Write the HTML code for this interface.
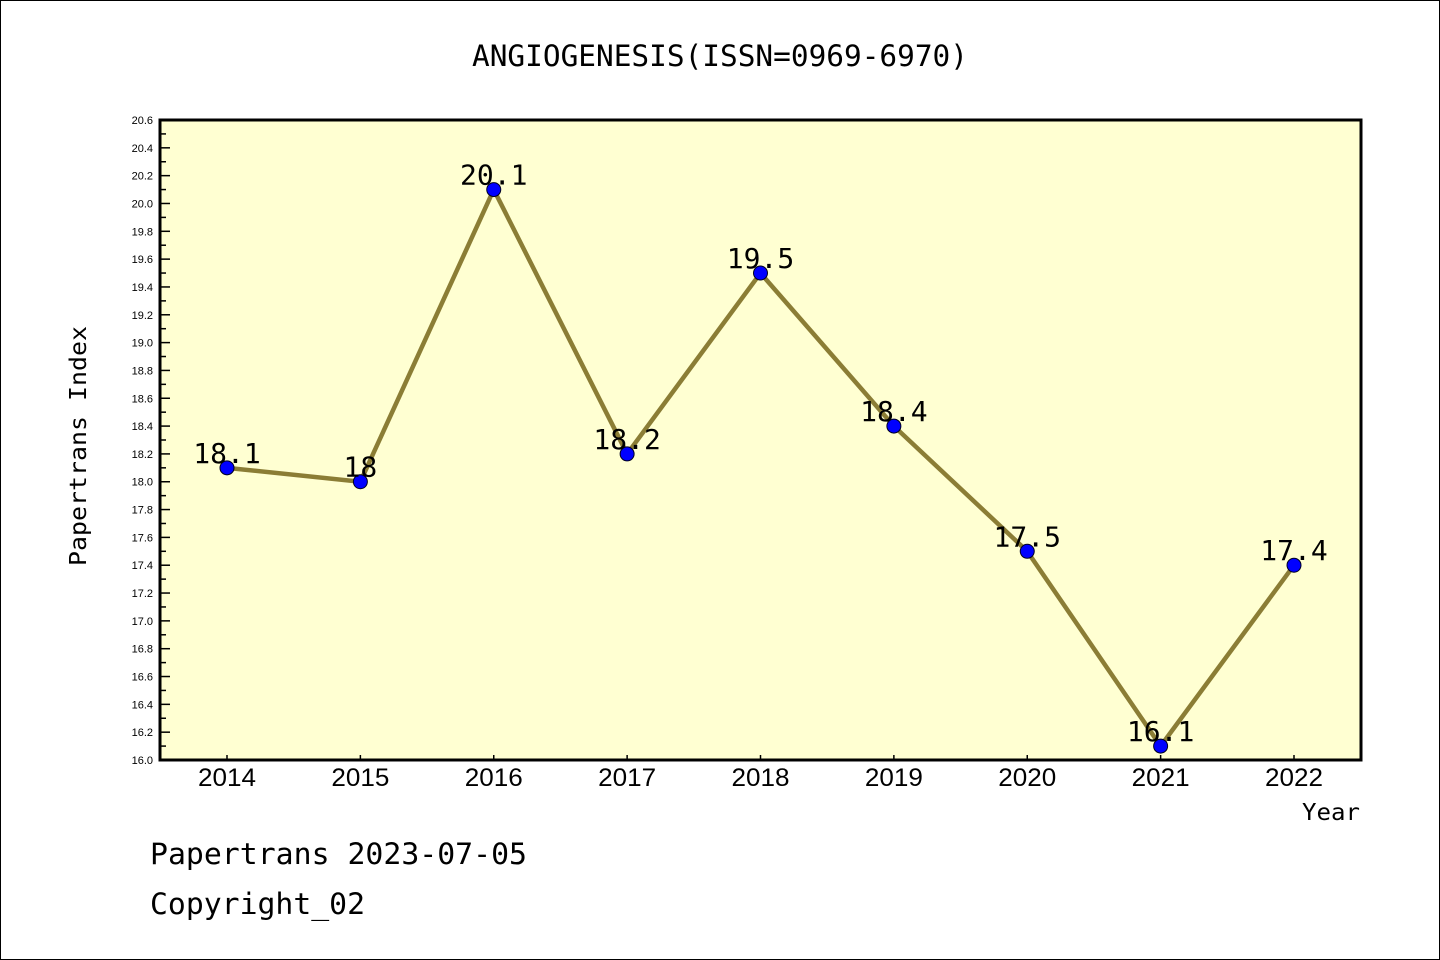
<!DOCTYPE html>
<html><head><meta charset="utf-8"><style>
body{margin:0;background:#fff;}
svg{display:block;font-family:"Liberation Sans","WenQuanYi Zen Hei",sans-serif;}
</style></head><body>
<svg id="chart" width="1440" height="960" xmlns="http://www.w3.org/2000/svg">
<rect x="0.5" y="0.5" width="1439" height="959" fill="#fff" stroke="#000"/>
<text x="472" y="66" textLength="496" lengthAdjust="spacingAndGlyphs" font-size="29" font-family="'WenQuanYi Zen Hei',monospace">ANGIOGENESIS(ISSN=0969-6970)</text>
<rect x="160" y="120" width="1201" height="640" fill="#ffffd2"/>
<g id="yaxis"></g>
<g id="xaxis"></g>
<g id="series"></g>
<rect x="160" y="120" width="1201" height="640" fill="none" stroke="#000" stroke-width="3"/>
<text x="86" y="566" textLength="240" lengthAdjust="spacingAndGlyphs" font-size="23" font-family="'WenQuanYi Zen Hei',monospace" transform="rotate(-90 86 566)">Papertrans Index</text>
<text x="1302" y="820" textLength="58" lengthAdjust="spacingAndGlyphs" font-size="23" font-family="'WenQuanYi Zen Hei',monospace">Year</text>
<text x="150" y="864" textLength="377" lengthAdjust="spacingAndGlyphs" font-size="29" font-family="'WenQuanYi Zen Hei',monospace">Papertrans 2023-07-05</text>
<text x="150" y="914" textLength="215" lengthAdjust="spacingAndGlyphs" font-size="29" font-family="'WenQuanYi Zen Hei',monospace">Copyright_02</text>
</svg>
<script>
const years = ["2014","2015","2016","2017","2018","2019","2020","2021","2022"];
const values = [18.1,18.0,20.1,18.2,19.5,18.4,17.5,16.1,17.4];
const valueLabels = ["18.1","18","20.1","18.2","19.5","18.4","17.5","16.1","17.4"];
const yMin = 16.0, yMax = 20.6, yStep = 0.2;

const NS="http://www.w3.org/2000/svg";
function xPos(i){return 227 + i*(1294-227)/(years.length-1);}
function yPos(v){return 760 - (v-yMin)/(yMax-yMin)*640;}
function mk(tag,attrs,parent){const e=document.createElementNS(NS,tag);for(const k in attrs)e.setAttribute(k,attrs[k]);parent.appendChild(e);return e;}

const ya=document.getElementById('yaxis');
const nT=Math.round((yMax-yMin)/yStep);
for(let k=0;k<=nT;k++){
  const v=yMin+k*yStep, y=yPos(v);
  const t=mk('line',{x1:160,x2:170,y1:y,y2:y,stroke:'#000','stroke-width':1.5},ya);
  
  
  const l=mk('text',{x:153,y:y+4,'text-anchor':'end','font-size':11},ya);
  l.textContent=v.toFixed(1);
  
  
  if(k<nT){const ym=yPos(v+yStep/2);
    const m=mk('line',{x1:160,x2:166,y1:ym,y2:ym,stroke:'#000','stroke-width':1.5},ya);
    
    }
}
const xa=document.getElementById('xaxis');
years.forEach((yr,i)=>{
  const x=xPos(i);
  const t=mk('line',{x1:x,x2:x,y1:755,y2:760,stroke:'#000','stroke-width':1.5},xa);
  
  
  const l=mk('text',{x:x-29,y:786,textLength:58,lengthAdjust:'spacingAndGlyphs','font-size':25,'font-family':"'WenQuanYi Zen Hei',sans-serif"},xa);
  l.textContent=yr;
  
  
});
const s=document.getElementById('series');
const pl=mk('polyline',{points:values.map((v,i)=>xPos(i)+','+yPos(v)).join(' '),fill:'none',stroke:'#8b7d35','stroke-width':4.5},s);


values.forEach((v,i)=>{
  const c=mk('circle',{cx:xPos(i),cy:yPos(v),r:7,fill:'#0000ff',stroke:'#000020','stroke-width':1},s);
  
  
  const l=mk('text',{x:xPos(i),y:yPos(v)-5,'text-anchor':'middle','font-size':28,'font-family':"'WenQuanYi Zen Hei',monospace"},s);
  l.textContent=valueLabels[i];
  
  
});
</script>
</body></html>
